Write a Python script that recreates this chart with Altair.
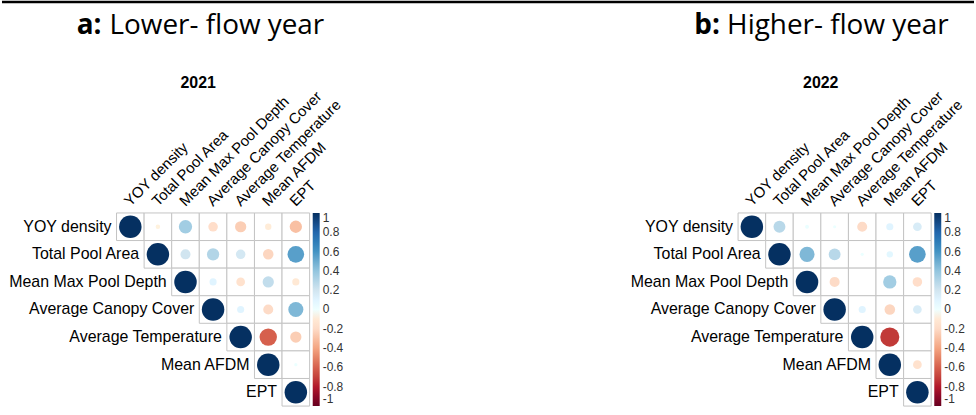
import altair as alt
import pandas as pd

variables = ["YOY density", "Total Pool Area", "Mean Max Pool Depth",
             "Average Canopy Cover", "Average Temperature", "Mean AFDM", "EPT"]

# upper-triangle correlations, row by row (excluding diagonal)
corr_2021 = [
    [-0.04, 0.35, -0.18, -0.25, -0.08, -0.30],
    [0.20, 0.30, 0.18, -0.22, 0.55],
    [0.10, -0.15, 0.25, -0.10],
    [0.10, -0.20, 0.45],
    [-0.60, -0.25],
    [0.02],
]
corr_2022 = [
    [0.28, 0.03, 0.02, -0.20, 0.10, 0.15],
    [0.45, 0.28, 0.02, 0.08, 0.55],
    [-0.20, 0.00, 0.35, -0.18],
    [0.10, -0.22, 0.15],
    [-0.72, 0.00],
    [-0.15],
]

legend_values = [1, 0.8, 0.6, 0.4, 0.2, 0, -0.2, -0.4, -0.6, -0.8, -1]
rdbu_domain = [-1, -0.8, -0.6, -0.4, -0.2, 0, 0.2, 0.4, 0.6, 0.8, 1]
rdbu_colors = ["#67001F", "#B2182B", "#D6604D", "#F4A582", "#FDDBC7", "#FFFFFF",
               "#D1E5F0", "#92C5DE", "#4393C3", "#2166AC", "#053061"]

CELL = 27.7
N = len(variables)
SIDE = CELL * N
LEFT0 = 115   # page x of left grid
TOP0 = 213    # page y of grids
RIGHT0 = 739  # page x of right grid
LABEL_FONT = "Liberation Sans"


def long_table(tri):
    rows = []
    for i, v in enumerate(variables):
        rows.append({"row": v, "col": v, "r": 1.0, "i": i, "j": i})
        for k, val in enumerate(tri[i] if i < len(tri) else []):
            j = i + 1 + k
            rows.append({"row": v, "col": variables[j], "r": val, "i": i, "j": j})
    return pd.DataFrame(rows)


def panel(tri, year, head_bold, head_rest, origin_x, title_x, head_x, with_rule):
    df = long_table(tri)
    xs = alt.X("col:N", sort=variables, axis=None,
               scale=alt.Scale(domain=variables, paddingInner=0, paddingOuter=0))
    ys = alt.Y("row:N", sort=variables, axis=None,
               scale=alt.Scale(domain=variables, paddingInner=0, paddingOuter=0))
    base = alt.Chart(df)
    cells = base.mark_rect(fill="white", stroke="#c4c4c4", strokeWidth=1).encode(x=xs, y=ys)
    circles = base.mark_circle(opacity=1).transform_calculate(
        absr="abs(datum.r)"
    ).encode(
        x=xs, y=ys,
        color=alt.Color("r:Q",
                        scale=alt.Scale(domain=rdbu_domain, range=rdbu_colors),
                        legend=alt.Legend(title=None, orient="right", offset=3,
                                          direction="vertical",
                                          gradientLength=SIDE, gradientThickness=7,
                                          gradientStrokeWidth=0,
                                          values=legend_values, labelOverlap=False,
                                          labelExpr="'' + datum.value",
                                          labelFontSize=12, labelColor="#333333",
                                          labelFont=LABEL_FONT, labelOffset=3,
                                          padding=0)),
        size=alt.Size("absr:Q", scale=alt.Scale(domain=[0, 1],
                                                range=[0, 3.1416 * (0.46 * CELL) ** 2]),
                      legend=None),
    )
    diag = df[df["i"] == df["j"]]
    row_labels = alt.Chart(diag).mark_text(
        align="right", baseline="middle", dx=-CELL / 2 - 5,
        font=LABEL_FONT, fontSize=16, color="black"
    ).encode(x=xs, y=ys, text="row:N")
    col_df = pd.DataFrame({"col": variables})
    col_labels = alt.Chart(col_df).mark_text(
        align="left", baseline="alphabetic", angle=315, dx=0,
        font=LABEL_FONT, fontSize=15, color="black"
    ).encode(x=xs, y=alt.value(-6), text="col:N")
    title_df = pd.DataFrame({"t": [year]})
    title = alt.Chart(title_df).mark_text(
        align="center", baseline="middle", font=LABEL_FONT,
        fontSize=16, fontWeight="bold", color="black"
    ).encode(x=alt.value(title_x - origin_x), y=alt.value(83 - TOP0), text="t:N")
    hb = pd.DataFrame({"t": [head_bold]})
    hr = pd.DataFrame({"t": [head_rest]})
    hx = head_x - origin_x
    head1 = alt.Chart(hb).mark_text(
        align="left", baseline="middle", font="Open Sans", fontSize=28,
        fontWeight="bold", color="black"
    ).encode(x=alt.value(hx), y=alt.value(25 - TOP0), text="t:N")
    head2 = alt.Chart(hr).mark_text(
        align="left", baseline="middle", font="Open Sans", fontSize=28, color="black"
    ).encode(x=alt.value(hx + 33), y=alt.value(25 - TOP0), text="t:N")
    layers = [cells, circles, row_labels, col_labels, title, head1, head2]
    if with_rule:
        rule = alt.Chart(title_df).mark_rule(color="black", strokeWidth=2.5).encode(
            x=alt.value(-origin_x), x2=alt.value(976 - origin_x),
            y=alt.value(1.25 - TOP0)
        )
        layers.append(rule)
    return alt.layer(*layers).properties(width=SIDE, height=SIDE)


left = panel(corr_2021, "2021", "a:", "Lower- flow year", LEFT0, 197, 75, True)
right = panel(corr_2022, "2022", "b:", "Higher- flow year", RIGHT0, 822, 695, False)

chart = alt.hconcat(
    left, right, spacing=RIGHT0 - LEFT0 - SIDE, bounds="flush"
).resolve_scale(
    color="independent", size="independent"
).properties(padding=0, background="white").configure_view(stroke=None)

chart.save("out.html", embed_options={"renderer": "svg", "actions": False})
